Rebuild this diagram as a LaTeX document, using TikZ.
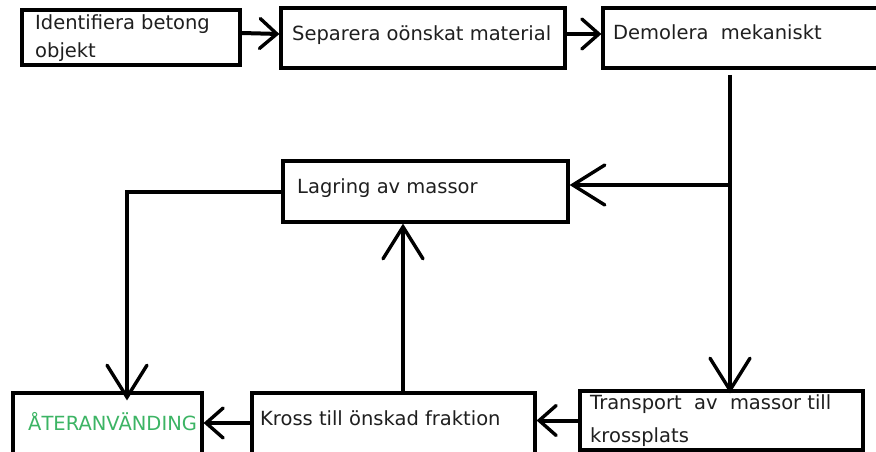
\documentclass[tikz,border=0pt]{standalone}
\usepackage{fontspec}
\setmainfont{DejaVu Sans}
\usetikzlibrary{arrows.meta,calc}
\definecolor{regreen}{RGB}{60,180,100}
\begin{document}
\begin{tikzpicture}[x=1pt,y=-1pt,
  boxst/.style={draw=black,line width=3.2pt,rectangle,inner sep=0pt},
  lbl/.style={anchor=west,inner sep=0pt,font=\fontsize{19.5}{22}\selectfont,text=black!88},
  conn/.style={line width=4pt,-{Straight Barb[length=17pt,width=30pt,line width=3.4pt,line cap=round]}},
  bigconn/.style={line width=4pt,-{Straight Barb[length=32pt,width=40pt,line width=3.4pt,line cap=round]}},
  plain/.style={line width=4pt}]
\clip (0,0) rectangle (876,452);
\fill[white] (0,0) rectangle (876,452);
% boxes
\node[boxst,minimum width=218pt,minimum height=55pt] (b1) at (131,37.5) {};
\node[boxst,minimum width=284pt,minimum height=60pt] (b2) at (423,38) {};
\node[boxst,minimum width=280pt,minimum height=60pt] (b3) at (743,38) {};
\node[boxst,minimum width=285pt,minimum height=61pt] (lag) at (425.5,191.5) {};
\node[boxst,minimum width=283pt,minimum height=59pt] (tra) at (721.5,420.5) {};
\node[boxst,minimum width=283pt,minimum height=64pt] (kro) at (393.5,425) {};
\node[boxst,minimum width=189pt,minimum height=64pt] (ate) at (107.5,425) {};
% texts
\node[lbl] (t1a) at (35,24) {Identifiera betong};
\node[lbl] (t1b) at (35,52) {objekt};
\node[lbl] (t2) at (292,35) {Separera oönskat material};
\node[lbl] (t3) at (613,32) {Demolera\ \ mekaniskt};
\node[lbl] (t4) at (297,188) {Lagring av massor};
\node[lbl,text=regreen] (t5) at (28,422) {ÅTERANVÄNDING};
\node[lbl] (t6) at (260,418) {Kross till önskad fraktion};
\node[lbl] (t7a) at (590,404) {Transport\ \ av\ \ massor till};
\node[lbl] (t7b) at (590,437) {krossplats};
% connectors
\draw[conn] ([yshift=4.5pt]b1.east) -- ([yshift=4pt]b2.west);
\draw[conn] ([yshift=4pt]b2.east) -- ([yshift=4pt]b3.west);
\coordinate (s) at (730,75);
\coordinate (j) at (730,185);
\draw[plain] (s) -- (j);
\draw[bigconn] (j) -- ([yshift=-4pt]tra.north -| j);
\draw[bigconn] (j) -- (lag.east |- j);
\coordinate (c1) at (127,192);
\draw[bigconn] (lag.west |- c1) -- (c1) -- ([yshift=-9pt]ate.north -| c1);
\draw[bigconn] (kro.north -| 403,0) -- (lag.south -| 403,0);
\draw[conn] (tra.west) -- (kro.east |- tra.west);
\draw[conn] ([yshift=2pt]kro.west) -- ([yshift=2pt]ate.east);
\end{tikzpicture}
\end{document}
